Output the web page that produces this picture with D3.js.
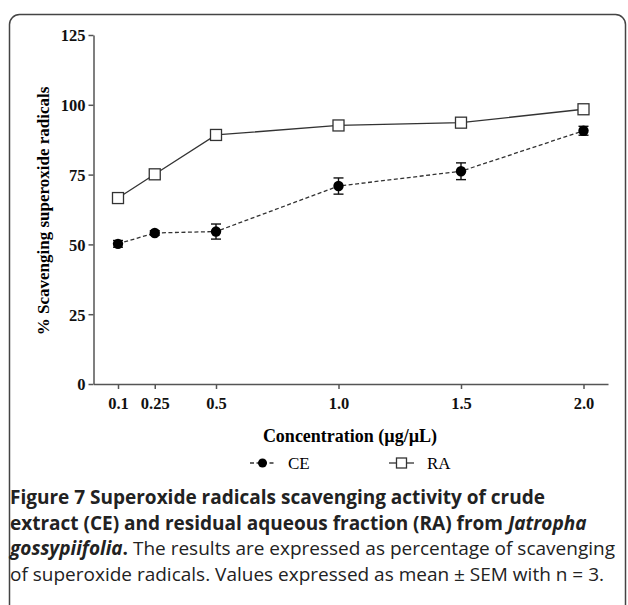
<!DOCTYPE html>
<html>
<head>
<meta charset="utf-8">
<script src="https://cdn.jsdelivr.net/npm/d3@7"></script>
<style>
body { margin: 0; background: #fff; }
svg { display: block; }
.axis path, .axis line { stroke: #555; stroke-width: 1.5; }
.axis text { font-family: "Liberation Serif", "DejaVu Serif", serif; font-weight: bold; font-size: 16.5px; fill: #111; }
</style>
</head>
<body>
<div id="chart"></div>
<script>
// values
const concentrations = [0.1, 0.25, 0.5, 1.0, 1.5, 2.0];
const xTickLabels = ["0.1", "0.25", "0.5", "1.0", "1.5", "2.0"];
const yTicks = [0, 25, 50, 75, 100, 125];
const ceMean = [50.2, 54.1, 54.6, 70.9, 76.2, 90.7];
const ceSem = [1.2, 0.8, 2.7, 2.9, 3.0, 1.6];
const raMean = [66.6, 75.1, 89.2, 92.6, 93.6, 98.4];
const captionLines = [
	[{ t: "Figure 7 Superoxide radicals scavenging activity of crude", b: true }],
	[{ t: "extract (CE) and residual aqueous fraction (RA) from ", b: true }, { t: "Jatropha", b: true, i: true }],
	[{ t: "gossypiifolia", b: true, i: true }, { t: ".", b: true }, { t: " The results are expressed as percentage of scavenging" }],
	[{ t: "of superoxide radicals. Values expressed as mean \u00b1 SEM with n = 3." }]
];

drawChart()

function drawChart() {
	const W = 628, H = 605
	const svg = d3.select("#chart").append("svg")
		.attr("width", W)
		.attr("height", H)

	// frame around figure + caption
	svg.append("rect")
		.attr("x", 9.5).attr("y", 14.5)
		.attr("width", 616).attr("height", 600)
		.attr("rx", 10).attr("ry", 10)
		.attr("fill", "none")
		.attr("stroke", "#444")
		.attr("stroke-width", 1.5)

	const xScale = d3.scaleLinear().domain([0, 2.1]).range([93.5, 608])
	const yScale = d3.scaleLinear().domain([0, 125]).range([384, 35])

	const gX = svg.append("g")
		.attr("class", "axis")
		.attr("transform", `translate(0,${yScale(0)})`)
		.call(d3.axisBottom(xScale)
			.tickValues(concentrations)
			.tickFormat((d, i) => xTickLabels[i])
			.tickSize(5).tickSizeOuter(0).tickPadding(8))

	const gY = svg.append("g")
		.attr("class", "axis")
		.attr("transform", `translate(${xScale(0)},0)`)
		.call(d3.axisLeft(yScale)
			.tickValues(yTicks)
			.tickSize(5).tickSizeOuter(0).tickPadding(3))
	gY.selectAll(".tick text").attr("dy", "0.36em")

	// axis titles
	svg.append("text")
		.attr("x", 350).attr("y", 442)
		.attr("text-anchor", "middle")
		.style("font-family", "Liberation Serif, serif")
		.style("font-weight", "bold")
		.style("font-size", "18px")
		.text("Concentration (\u00b5g/\u00b5L)")

	svg.append("text")
		.attr("transform", "translate(49,211) rotate(-90)")
		.attr("text-anchor", "middle")
		.style("font-family", "Liberation Serif, serif")
		.style("font-weight", "bold")
		.style("font-size", "17px")
		.text("% Scavenging superoxide radicals")

	const ce = concentrations.map((c, i) => ({ x: c, y: ceMean[i], e: ceSem[i] }))
	const ra = concentrations.map((c, i) => ({ x: c, y: raMean[i] }))

	const line = d3.line().x(d => xScale(d.x)).y(d => yScale(d.y))

	svg.append("path")
		.attr("d", line(ra))
		.attr("fill", "none")
		.attr("stroke", "#333")
		.attr("stroke-width", 1.3)

	svg.append("path")
		.attr("d", line(ce))
		.attr("fill", "none")
		.attr("stroke", "#333")
		.attr("stroke-width", 1.3)
		.attr("stroke-dasharray", "4,2.5")

	// error bars CE
	const eb = svg.append("g").attr("stroke", "#111").attr("stroke-width", 1.4)
	ce.forEach(d => {
		const x = xScale(d.x), y1 = yScale(d.y - d.e), y2 = yScale(d.y + d.e)
		eb.append("line").attr("x1", x).attr("x2", x).attr("y1", y1).attr("y2", y2)
		eb.append("line").attr("x1", x - 5).attr("x2", x + 5).attr("y1", y1).attr("y2", y1)
		eb.append("line").attr("x1", x - 5).attr("x2", x + 5).attr("y1", y2).attr("y2", y2)
	})

	svg.append("g").selectAll("circle")
		.data(ce).enter()
		.append("circle")
		.attr("cx", d => xScale(d.x))
		.attr("cy", d => yScale(d.y))
		.attr("r", 5.2)
		.attr("fill", "#000")

	svg.append("g").selectAll("rect")
		.data(ra).enter()
		.append("rect")
		.attr("x", d => xScale(d.x) - 5.5)
		.attr("y", d => yScale(d.y) - 5.5)
		.attr("width", 11).attr("height", 11)
		.attr("fill", "#fff")
		.attr("stroke", "#333")
		.attr("stroke-width", 1.3)

	// legend
	const lg = svg.append("g")
	const ly = 463
	lg.append("line").attr("x1", 250).attr("x2", 275).attr("y1", ly).attr("y2", ly)
		.attr("stroke", "#333").attr("stroke-width", 1.3).attr("stroke-dasharray", "4,2.5")
	lg.append("circle").attr("cx", 262.5).attr("cy", ly).attr("r", 4.5).attr("fill", "#000")
	lg.append("text").attr("x", 288).attr("y", ly + 5.5)
		.style("font-family", "Liberation Serif, serif").style("font-size", "17px").text("CE")
	lg.append("line").attr("x1", 389).attr("x2", 414).attr("y1", ly).attr("y2", ly)
		.attr("stroke", "#333").attr("stroke-width", 1.3)
	lg.append("rect").attr("x", 396.5).attr("y", ly - 5).attr("width", 10).attr("height", 10)
		.attr("fill", "#fff").attr("stroke", "#333").attr("stroke-width", 1.3)
	lg.append("text").attr("x", 427).attr("y", ly + 5.5)
		.style("font-family", "Liberation Serif, serif").style("font-size", "17px").text("RA")

	// caption
	const cap = svg.append("g")
		.style("font-family", "Open Sans, sans-serif")
		.style("font-size", "19px")
		.style("fill", "#222")
	captionLines.forEach((parts, i) => {
		const t = cap.append("text").attr("x", 10).attr("y", 504 + i * 25.5)
		parts.forEach(p => {
			t.append("tspan")
				.style("font-weight", p.b ? "bold" : "normal")
				.style("font-style", p.i ? "italic" : "normal")
				.text(p.t)
		})
	})
}
</script>
</body>
</html>
